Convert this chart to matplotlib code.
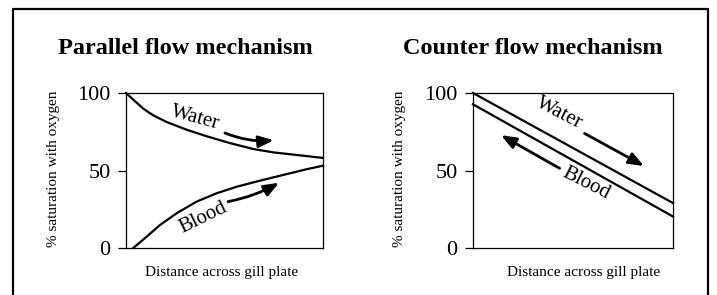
import matplotlib
matplotlib.use("Agg")
import matplotlib.pyplot as plt
from matplotlib.lines import Line2D

plt.rcParams['font.family'] = ['Liberation Serif', 'DejaVu Serif']

# Parallel flow data (x: fraction of distance across gill plate)
par_water_x = [0.0, 0.037, 0.088, 0.138, 0.206, 0.308, 0.409, 0.527, 0.645, 0.747, 0.882, 1.0]
par_water_y = [100, 95.7, 89.9, 85.6, 81.3, 76.3, 72.1, 67.7, 63.9, 61.7, 59.8, 58.1]
par_blood_x = [0.037, 0.105, 0.172, 0.257, 0.358, 0.46, 0.561, 0.679, 0.797, 0.916, 1.0]
par_blood_y = [0, 7.3, 14.8, 22.4, 29.9, 35.3, 39.5, 43.4, 47.1, 50.8, 53.1]

# Counter flow data
cnt_water_x = [0.0, 1.0]
cnt_water_y = [100, 29]
cnt_blood_x = [0.0, 1.0]
cnt_blood_y = [92.7, 20.3]

titles = ["Parallel flow mechanism", "Counter flow mechanism"]
yticks = [0, 50, 100]
ylabel = "% saturation with oxygen"
xlabel = "Distance across gill plate"

W, H = 717, 295
fig = plt.figure(figsize=(W / 100, H / 100), dpi=100)

def px(x0, y0, x1, y1):
    return [x0 / W, 1 - y1 / H, (x1 - x0) / W, (y1 - y0) / H]

axL = fig.add_axes(px(126, 93, 323, 248))
axR = fig.add_axes(px(473, 93, 673, 248))

for ax, xl in [(axL, 0.487), (axR, 0.555)]:
    ax.set_xlim(0, 1)
    ax.set_ylim(0, 100)
    ax.set_xticks([])
    ax.set_yticks(yticks)
    ax.set_yticklabels([str(v) for v in yticks], fontsize=16)
    ax.tick_params(axis='y', direction='out', length=6, width=0.9, pad=5)
    for s in ax.spines.values():
        s.set_linewidth(0.9)
    ax.set_ylabel(ylabel, fontsize=11, va='center')
    ax.yaxis.set_label_coords(-0.368, 0.51)
    ax.set_xlabel(xlabel, fontsize=11, va='center')
    ax.xaxis.set_label_coords(xl, -0.155)

lw = 1.6
axL.plot(par_water_x, par_water_y, color='black', lw=lw, clip_on=False,
         solid_joinstyle='round')
axL.plot(par_blood_x, par_blood_y, color='black', lw=lw, clip_on=False,
         solid_joinstyle='round')
axR.plot(cnt_water_x, cnt_water_y, color='black', lw=lw, clip_on=False)
axR.plot(cnt_blood_x, cnt_blood_y, color='black', lw=lw, clip_on=False)

aprops = dict(arrowstyle='-|>,head_length=0.9,head_width=0.35', color='black',
              lw=2.0, mutation_scale=10, shrinkA=0, shrinkB=0)

# Left panel labels and arrows
axL.text(0.35, 83.9, "Water", rotation=-15, fontsize=15, ha='center', va='center')
axL.text(0.392, 19.2, "Blood", rotation=26, fontsize=15, ha='center', va='center')
axL.annotate("", xy=(0.75, 69.5), xytext=(0.502, 74.2),
             arrowprops=dict(aprops, connectionstyle='arc3,rad=0.12'))
axL.annotate("", xy=(0.777, 42.1), xytext=(0.518, 29.9),
             arrowprops=dict(aprops, connectionstyle='arc3,rad=0.08'))

# Right panel labels and arrows
axR.text(0.433, 86.7, "Water", rotation=-27, fontsize=15, ha='center', va='center')
axR.text(0.567, 41.8, "Blood", rotation=-27, fontsize=15, ha='center', va='center')
axR.annotate("", xy=(0.855, 52.9), xytext=(0.558, 73.9), arrowprops=aprops)
axR.annotate("", xy=(0.14, 72.8), xytext=(0.433, 51.4), arrowprops=aprops)

# Titles
fig.text(185 / W, 1 - 48 / H, titles[0], fontsize=17.5, fontweight='bold',
         ha='center', va='center')
fig.text(533 / W, 1 - 48 / H, titles[1], fontsize=17.5, fontweight='bold',
         ha='center', va='center')

# Outer frame (open at bottom)
frame = Line2D([13 / W, 13 / W, 708 / W, 708 / W],
               [-0.05, 1 - 9 / H, 1 - 9 / H, -0.05],
               transform=fig.transFigure, color='black', lw=1.6)
fig.add_artist(frame)

fig.savefig("out.png", dpi=100)
